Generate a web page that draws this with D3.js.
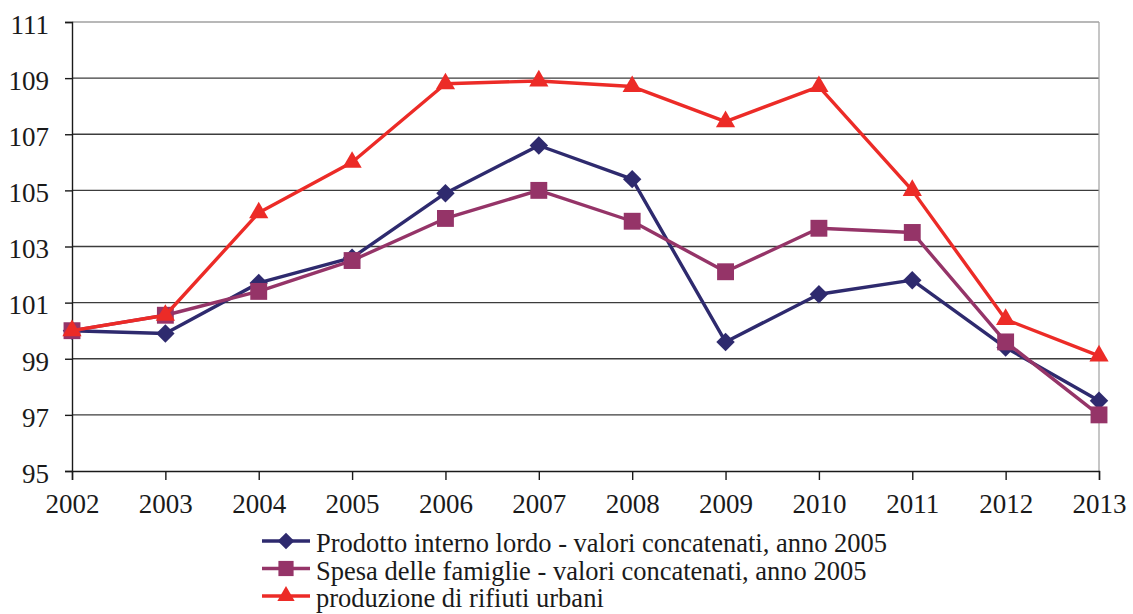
<!DOCTYPE html>
<html>
<head>
<meta charset="utf-8">
<script src="https://cdn.jsdelivr.net/npm/d3@7"></script>
<style>
  html, body { margin: 0; padding: 0; background: #fff; }
  svg { display: block; }
</style>
</head>
<body>
<svg id="chart" width="1133" height="614"></svg>
<script>
// Indici (2002 = 100)
const years = [2002, 2003, 2004, 2005, 2006, 2007, 2008, 2009, 2010, 2011, 2012, 2013];
const pil = [100.0, 99.9, 101.7, 102.6, 104.9, 106.6, 105.4, 99.6, 101.3, 101.8, 99.4, 97.5];
const spesa = [100.0, 100.55, 101.4, 102.5, 104.0, 105.0, 103.9, 102.1, 103.65, 103.5, 99.6, 97.0];
const rifiuti = [100.0, 100.55, 104.2, 106.0, 108.8, 108.9, 108.7, 107.45, 108.7, 105.0, 100.4, 99.1];
const yTicks = [95, 97, 99, 101, 103, 105, 107, 109, 111];
const seriesNames = [
  "Prodotto interno lordo - valori concatenati, anno 2005",
  "Spesa delle famiglie - valori concatenati, anno 2005",
  "produzione di rifiuti urbani"
];

const colors = ["#2e2a6e", "#953468", "#ec2b27"];
const shapes = ["diamond", "square", "triangle"];
const seriesData = [pil, spesa, rifiuti];
const FONT = '"Liberation Serif", "Times New Roman", serif';
const INK = "#1a1a1a";

const svg = d3.select("#chart").style("font-family", FONT);
const plotL = 72, plotR = 1099, plotT = 22, plotB = 471;

const x = d3.scalePoint().domain(years).range([plotL, plotR]);
const y = d3.scaleLinear().domain([95, 111]).range([plotB, plotT]);

// Gridlines
svg.append("g").selectAll("line").data(yTicks.filter(d => d > 95)).join("line")
  .attr("x1", plotL).attr("x2", plotR)
  .attr("y1", d => y(d)).attr("y2", d => y(d))
  .attr("stroke", d => d === 111 ? "#a0a0a0" : "#3c3c3c")
  .attr("stroke-width", 1.3);

// Right edge of the plot area
svg.append("line")
  .attr("x1", plotR).attr("x2", plotR).attr("y1", plotT).attr("y2", plotB)
  .attr("stroke", "#a0a0a0").attr("stroke-width", 1.2);

// Y axis
const yAxis = d3.axisLeft(y).tickValues(yTicks).tickSize(7).tickPadding(16);
const gy = svg.append("g").attr("transform", `translate(${plotL},0)`).call(yAxis);
gy.attr("font-family", null).attr("font-size", null);
gy.select(".domain").attr("stroke", INK).attr("stroke-width", 1.4);
gy.selectAll(".tick line").attr("stroke", INK).attr("stroke-width", 1.4);
gy.selectAll(".tick text")
  .style("font-family", FONT).style("font-size", "27px")
  .attr("fill", INK).attr("dy", "0.42em");

// X axis
const xAxis = d3.axisBottom(x).tickSize(9).tickPadding(14).tickFormat(d3.format("d"));
const gx = svg.append("g").attr("transform", `translate(0,${plotB})`).call(xAxis);
gx.attr("font-family", null).attr("font-size", null);
gx.select(".domain").attr("stroke", INK).attr("stroke-width", 1.4);
gx.selectAll(".tick line").attr("stroke", INK).attr("stroke-width", 1.4);
gx.selectAll(".tick text")
  .style("font-family", FONT).style("font-size", "27px")
  .attr("fill", INK);

// Marker shapes
function markerPath(shape, scale) {
  const s = scale || 1;
  if (shape === "square") return d3.symbol(d3.symbolSquare, 285 * s * s)();
  if (shape === "diamond") return d3.symbol(d3.symbolSquare, 170 * s * s)();
  return d3.symbol(d3.symbolTriangle, 160 * s * s)();
}

const line = d3.line().x((d, i) => x(years[i])).y(d => y(d));

seriesData.forEach((vals, k) => {
  const g = svg.append("g");
  g.append("path")
    .attr("d", line(vals))
    .attr("fill", "none")
    .attr("stroke", colors[k])
    .attr("stroke-width", 3.4)
    .attr("stroke-linejoin", "round");
  g.selectAll("path.mk").data(vals).join("path")
    .attr("class", "mk")
    .attr("d", markerPath(shapes[k]))
    .attr("fill", colors[k])
    .attr("transform", (d, i) => `translate(${x(years[i])},${y(d)})` + (shapes[k] === "diamond" ? " rotate(45)" : ""));
});

// Legend
const legX = 262, legW = 48, legY0 = 541, legStep = 27.5;
seriesNames.forEach((name, k) => {
  const cy = legY0 + k * legStep;
  const g = svg.append("g");
  g.append("line")
    .attr("x1", legX).attr("x2", legX + legW).attr("y1", cy).attr("y2", cy)
    .attr("stroke", colors[k]).attr("stroke-width", 3.6);
  g.append("path")
    .attr("d", markerPath(shapes[k], 0.9))
    .attr("fill", colors[k])
    .attr("transform", `translate(${legX + legW / 2},${cy})` + (shapes[k] === "diamond" ? " rotate(45)" : ""));
  g.append("text")
    .attr("x", legX + legW + 6).attr("y", cy + 11)
    .style("font-family", FONT)
    .style("font-size", "26.5px")
    .attr("fill", INK)
    .text(name);
});
</script>
</body>
</html>
